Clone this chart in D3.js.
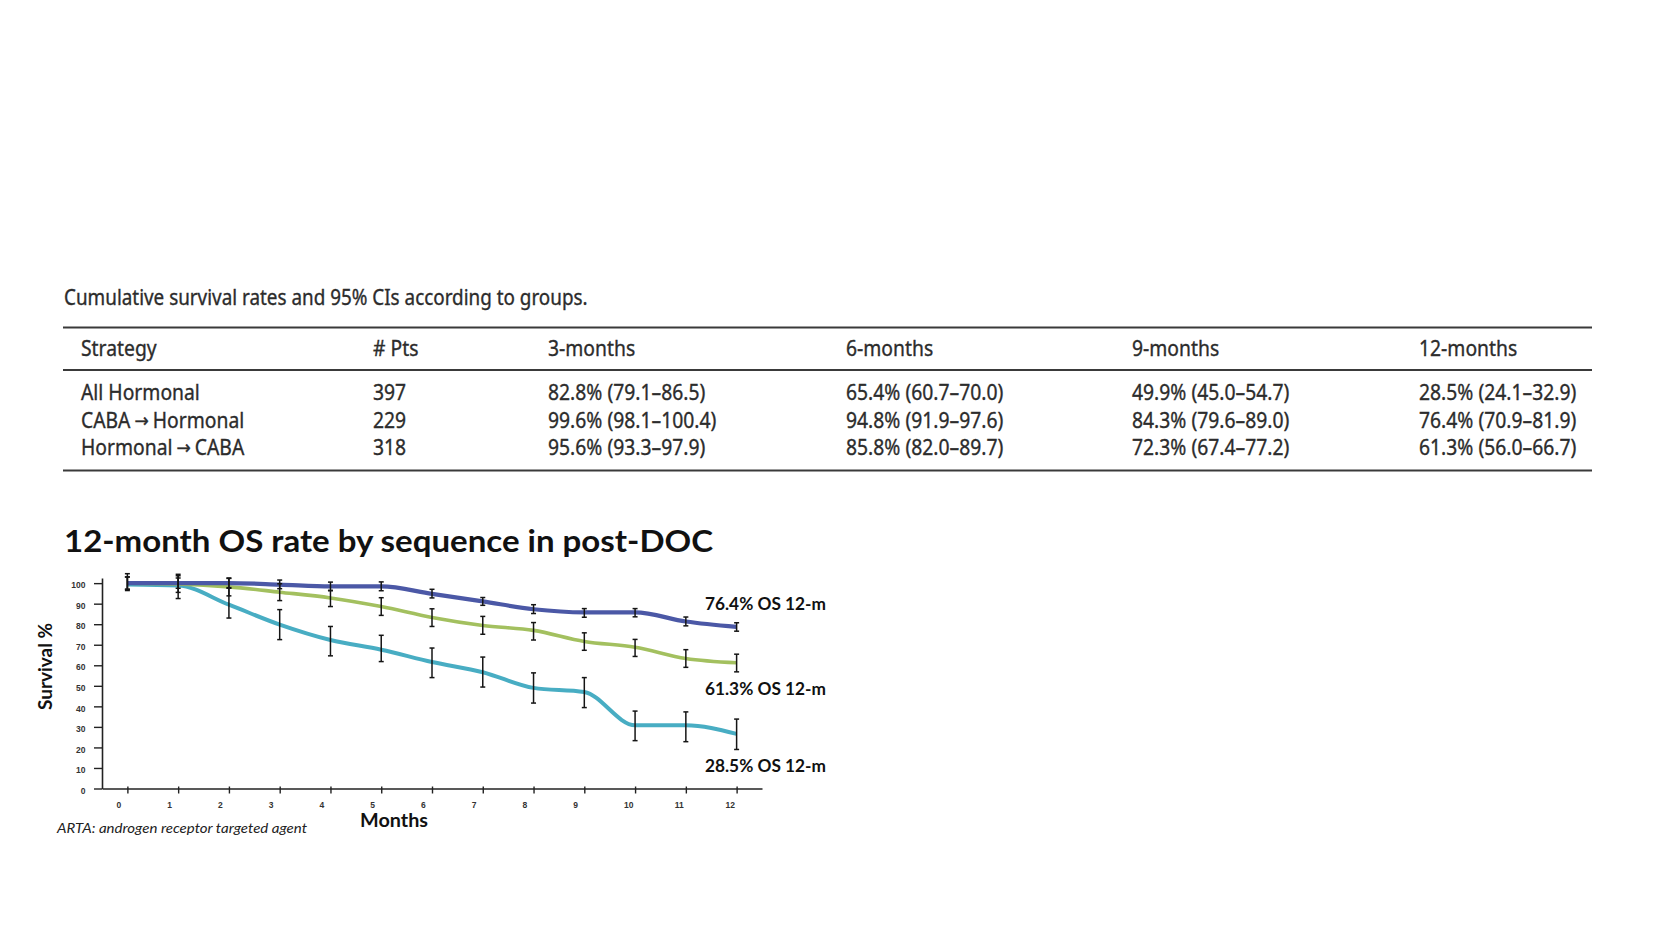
<!DOCTYPE html>
<html>
<head>
<meta charset="utf-8">
<script src="https://cdn.jsdelivr.net/npm/d3@7"></script>
<style>
  html, body { margin: 0; padding: 0; background: #ffffff; }
  svg { display: block; }
</style>
</head>
<body>
<svg id="chart" width="1680" height="945"></svg>
<script>
// ---------------- DATA ----------------
const tableTitle = "Cumulative survival rates and 95% CIs according to groups.";
const tableHeaders = ["Strategy", "# Pts", "3-months", "6-months", "9-months", "12-months"];
const strategies = ["All Hormonal", "CABA \u2192 Hormonal", "Hormonal \u2192 CABA"];
const patients = ["397", "229", "318"];
const rate3m = ["82.8% (79.1\u201386.5)", "99.6% (98.1\u2013100.4)", "95.6% (93.3\u201397.9)"];
const rate6m = ["65.4% (60.7\u201370.0)", "94.8% (91.9\u201397.6)", "85.8% (82.0\u201389.7)"];
const rate9m = ["49.9% (45.0\u201354.7)", "84.3% (79.6\u201389.0)", "72.3% (67.4\u201377.2)"];
const rate12m = ["28.5% (24.1\u201332.9)", "76.4% (70.9\u201381.9)", "61.3% (56.0\u201366.7)"];

const chartTitle = "12-month OS rate by sequence in post-DOC";
const months = [0, 1, 2, 3, 4, 5, 6, 7, 8, 9, 10, 11, 12];
const yTicks = [0, 10, 20, 30, 40, 50, 60, 70, 80, 90, 100];

// All Hormonal (cyan)
const allHormonal      = [99.3, 98.8, 89.5, 79.8, 72.3, 67.6, 61.6, 56.6, 49.0, 47.0, 30.8, 30.8, 26.6];
const allHormonalLo    = [96.4, 92.5, 83.0, 72.5, 64.6, 61.8, 54.0, 49.4, 41.6, 39.4, 23.3, 22.8, 19.0];
const allHormonalHi    = [104.6, 104.3, 97.8, 87.1, 78.9, 74.6, 68.4, 64.0, 56.3, 54.0, 37.7, 37.3, 33.8];
// Hormonal -> CABA (green)
const hormCaba         = [100, 99.6, 98.2, 95.6, 92.8, 88.6, 83.3, 79.4, 77.0, 71.6, 68.8, 63.3, 61.2];
const hormCabaLo       = [97.0, 95.5, 93.8, 91.5, 88.6, 84.3, 78.9, 75.1, 72.3, 67.3, 64.3, 59.0, 56.8];
const hormCabaHi       = [103.0, 103.6, 102.3, 99.7, 96.5, 92.9, 87.5, 83.8, 80.8, 75.8, 72.6, 67.6, 65.4];
// CABA -> Hormonal (blue)
const cabaHorm         = [100, 100, 100, 99.3, 98.4, 98.4, 94.8, 91.1, 87.3, 85.8, 85.8, 81.3, 78.7];
const cabaHormLo       = [97.0, 97.5, 97.5, 97.3, 96.3, 96.3, 92.8, 89.2, 85.2, 83.4, 83.6, 79.2, 76.6];
const cabaHormHi       = [103.0, 102.5, 102.5, 101.5, 100.5, 100.6, 97.0, 93.0, 89.5, 87.6, 87.6, 83.5, 80.7];

const annotations = ["76.4% OS 12-m", "61.3% OS 12-m", "28.5% OS 12-m"];
const xAxisTitle = "Months";
const yAxisTitle = "Survival %";
const footnote = "ARTA: androgen receptor targeted agent";

// ---------------- LAYOUT / STYLE ----------------
const svg = d3.select("#chart");
svg.append("rect").attr("width", 1680).attr("height", 945).attr("fill", "#ffffff");

const tableFont = "'Noto Sans', 'Open Sans', sans-serif";
const arrowFont = "'DejaVu Sans', sans-serif";
const tableColor = "#2c2c2c";
const colX = [81, 373, 548, 846, 1132, 1419];
const ruleX = [63, 1592];

const tbl = svg.append("g");

function styleTableText(t, size, family) {
  t.attr("font-family", family || tableFont).attr("font-size", size)
    .attr("fill", tableColor)
    .attr("stroke", tableColor).attr("stroke-width", 0.35);
}

// measure the natural width of the table title to derive a condensing factor
const probe = tbl.append("text").attr("x", 0).attr("y", -50);
styleTableText(probe, 21);
probe.text(tableTitle);
const k = 524 / probe.node().getComputedTextLength();
probe.remove();

// one horizontally condensed text piece; returns its drawn width
function piece(txt, x, y, size, family) {
  const t = tbl.append("text")
    .attr("transform", `translate(${x},${y}) scale(${k},1)`);
  styleTableText(t, size, family);
  t.text(txt);
  return t.node().getComputedTextLength() * k;
}

piece(tableTitle, 64, 305, 21);

function cell(txt, x, y) {
  const parts = String(txt).split(" \u2192 ");
  let cx = x;
  parts.forEach((p, i) => {
    if (i > 0) {
      cx += 4;
      const aw = piece("\u2192", cx, y - 1, 19, arrowFont);
      cx += aw + 4;
    }
    cx += piece(p, cx, y, 21.5);
  });
}

[327.5, 370, 470.5].forEach(yy => {
  tbl.append("line").attr("x1", ruleX[0]).attr("x2", ruleX[1])
    .attr("y1", yy).attr("y2", yy)
    .attr("stroke", "#3a3a3a").attr("stroke-width", 2);
});

tableHeaders.forEach((h, i) => cell(h, colX[i], 356));
const rowY = d3.scalePoint().domain(d3.range(strategies.length)).range([400, 455]);
const columns = [strategies, patients, rate3m, rate6m, rate9m, rate12m];
columns.forEach((col, ci) => {
  col.forEach((v, ri) => cell(v, colX[ci], rowY(ri)));
});

// ---------------- CHART ----------------
const chartFont = "Lato, 'Open Sans', sans-serif";
svg.append("text")
  .attr("x", 64).attr("y", 552)
  .attr("font-family", chartFont).attr("font-weight", 700)
  .attr("font-size", 30).attr("fill", "#111")
  .attr("textLength", 649).attr("lengthAdjust", "spacingAndGlyphs")
  .text(chartTitle);

const x = d3.scaleLinear().domain([-0.5, 12.5]).range([102, 762]);
const y = d3.scaleLinear().domain([0, 102.5]).range([788.5, 578]);

const axisColor = "#222";
const tickFont = "'Liberation Sans', Arial, sans-serif";

const gx = svg.append("g").attr("transform", "translate(0,788.5)")
  .call(d3.axisBottom(x).tickValues(months).tickSize(5).tickSizeOuter(0));
gx.select(".domain").attr("stroke", axisColor).attr("stroke-width", 1.6);
gx.selectAll(".tick line").attr("stroke", axisColor).attr("stroke-width", 1.4).attr("y1", -2);
gx.selectAll(".tick text")
  .attr("x", -11.5).attr("y", 19).attr("dy", 0)
  .attr("text-anchor", "start")
  .attr("font-family", tickFont).attr("font-weight", 700).attr("font-size", 8.5)
  .attr("fill", "#333");

const gy = svg.append("g").attr("transform", "translate(102,0)")
  .call(d3.axisLeft(y).tickValues(yTicks).tickSize(8).tickSizeOuter(0));
gy.select(".domain").attr("stroke", axisColor).attr("stroke-width", 1.6);
gy.selectAll(".tick line").attr("stroke", axisColor).attr("stroke-width", 1.4);
gy.selectAll(".tick text")
  .attr("x", -16.5).attr("dy", "0.55em")
  .attr("font-family", tickFont).attr("font-weight", 700).attr("font-size", 8.5)
  .attr("fill", "#333");

const series = [
  { vals: allHormonal, lo: allHormonalLo, hi: allHormonalHi, color: "#48adc3", width: 4 },
  { vals: hormCaba, lo: hormCabaLo, hi: hormCabaHi, color: "#a3c05f", width: 3.6 },
  { vals: cabaHorm, lo: cabaHormLo, hi: cabaHormHi, color: "#4b58a6", width: 4.2 }
];

const line = d3.line().x(d => x(d.m)).y(d => y(d.v)).curve(d3.curveMonotoneX);

series.forEach(s => {
  const pts = months.map((m, i) => ({ m, v: s.vals[i] }));
  svg.append("path").datum(pts)
    .attr("d", line)
    .attr("fill", "none")
    .attr("stroke", s.color)
    .attr("stroke-width", s.width)
    .attr("stroke-linejoin", "round");
});

const eb = svg.append("g").attr("stroke", "#151515").attr("stroke-width", 1.5);
series.forEach(s => {
  months.forEach((m, i) => {
    const cx = x(m), y1 = y(s.lo[i]), y2 = y(s.hi[i]);
    eb.append("line").attr("x1", cx).attr("x2", cx).attr("y1", y1).attr("y2", y2);
    eb.append("line").attr("x1", cx - 2.5).attr("x2", cx + 2.5).attr("y1", y1).attr("y2", y1);
    eb.append("line").attr("x1", cx - 2.5).attr("x2", cx + 2.5).attr("y1", y2).attr("y2", y2);
  });
});

const annY = [610, 695, 772];
annotations.forEach((a, i) => {
  svg.append("text")
    .attr("x", 705).attr("y", annY[i])
    .attr("font-family", chartFont).attr("font-weight", 700)
    .attr("font-size", 16.5).attr("fill", "#111")
    .attr("textLength", 121).attr("lengthAdjust", "spacingAndGlyphs")
    .text(a);
});

svg.append("text")
  .attr("x", 360).attr("y", 827)
  .attr("font-family", chartFont).attr("font-weight", 700)
  .attr("font-size", 18).attr("fill", "#111")
  .attr("textLength", 68).attr("lengthAdjust", "spacingAndGlyphs")
  .text(xAxisTitle);

svg.append("text")
  .attr("transform", "translate(52,666.5) rotate(-90)")
  .attr("text-anchor", "middle")
  .attr("font-family", chartFont).attr("font-weight", 700)
  .attr("font-size", 18).attr("fill", "#111")
  .attr("textLength", 87).attr("lengthAdjust", "spacingAndGlyphs")
  .text(yAxisTitle);

svg.append("text")
  .attr("x", 57).attr("y", 833)
  .attr("font-family", chartFont).attr("font-style", "italic")
  .attr("font-size", 13).attr("fill", "#222")
  .attr("textLength", 250).attr("lengthAdjust", "spacingAndGlyphs")
  .text(footnote);
</script>
</body>
</html>
